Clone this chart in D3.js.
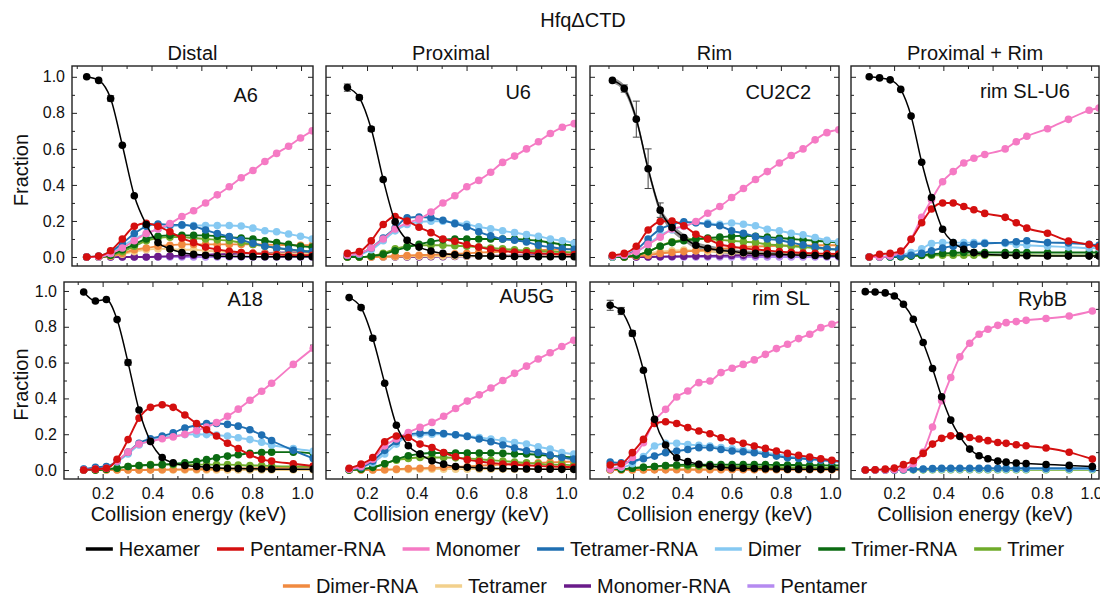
<!DOCTYPE html>
<html>
<head>
<meta charset="utf-8">
<script src="https://cdn.jsdelivr.net/npm/d3@7"></script>
<style>
  body { margin: 0; background: #fff; }
  text { font-family: "Liberation Sans", Arial, sans-serif; fill: #111; }
</style>
</head>
<body>
<div id="chart"></div>
<script>
// species, in legend order
var seriesNames = ["Hexamer", "Pentamer-RNA", "Monomer", "Tetramer-RNA", "Dimer", "Trimer-RNA",
                   "Trimer", "Dimer-RNA", "Tetramer", "Monomer-RNA", "Pentamer"];
var seriesColors = ["#000000", "#d40f0f", "#f57ac4", "#1f6fb2", "#86c9f2", "#0b6b12",
                    "#6fab2a", "#f08a40", "#f2d08c", "#6a1b8a", "#b58af0"];
var columnTitles = ["Distal", "Proximal", "Rim", "Proximal + Rim"];
var panelNames = ["A6", "U6", "CU2C2", "rim SL-U6", "A18", "AU5G", "rim SL", "RybB"];
var xTicks = [0.2, 0.4, 0.6, 0.8, 1.0];
var xMinor = [0.1, 0.3, 0.5, 0.7, 0.9];
var yTicks = [0, 0.2, 0.4, 0.6, 0.8, 1.0];
var yMinor = [0.1, 0.3, 0.5, 0.7, 0.9];

// ---- A6 (Distal) ----
var energyA6 = [0.14, 0.188, 0.236, 0.283, 0.331, 0.379, 0.426, 0.474, 0.522, 0.569, 0.617, 0.664, 0.712, 0.760, 0.807, 0.855, 0.902, 0.950, 0.998, 1.045];
var A6 = [
  [1.0, 0.98, 0.88, 0.62, 0.34, 0.18, 0.08, 0.045, 0.025, 0.015, 0.01, 0.006, 0.004, 0.003, 0.002, 0.002, 0.001, 0.001, 0.001, 0.001],
  [0, 0.005, 0.035, 0.10, 0.17, 0.187, 0.17, 0.14, 0.105, 0.08, 0.055, 0.042, 0.032, 0.025, 0.02, 0.016, 0.013, 0.011, 0.01, 0.01],
  [0, 0, 0.02, 0.05, 0.09, 0.13, 0.155, 0.185, 0.225, 0.257, 0.30, 0.345, 0.39, 0.44, 0.48, 0.53, 0.575, 0.615, 0.66, 0.70],
  [0, 0.005, 0.03, 0.075, 0.13, 0.17, 0.183, 0.178, 0.178, 0.17, 0.15, 0.13, 0.113, 0.095, 0.076, 0.06, 0.05, 0.043, 0.035, 0.03],
  [0, 0, 0.02, 0.06, 0.10, 0.13, 0.155, 0.17, 0.175, 0.175, 0.175, 0.175, 0.175, 0.172, 0.16, 0.146, 0.14, 0.128, 0.115, 0.10],
  [0, 0, 0.01, 0.04, 0.07, 0.10, 0.115, 0.12, 0.12, 0.12, 0.12, 0.115, 0.11, 0.105, 0.10, 0.09, 0.08, 0.07, 0.06, 0.055],
  [0, 0, 0.01, 0.03, 0.06, 0.09, 0.105, 0.11, 0.11, 0.105, 0.10, 0.095, 0.09, 0.08, 0.07, 0.06, 0.05, 0.04, 0.035, 0.03],
  [0, 0, 0.005, 0.02, 0.04, 0.05, 0.06, 0.065, 0.07, 0.07, 0.07, 0.07, 0.07, 0.07, 0.07, 0.068, 0.067, 0.066, 0.065, 0.065],
  [0, 0, 0.005, 0.015, 0.03, 0.04, 0.045, 0.045, 0.04, 0.04, 0.035, 0.03, 0.028, 0.025, 0.022, 0.02, 0.02, 0.02, 0.02, 0.02],
  [0, 0, 0, 0, 0, 0, 0.002, 0.005, 0.007, 0.01, 0.012, 0.015, 0.017, 0.02, 0.02, 0.022, 0.024, 0.025, 0.025, 0.025],
  [0, 0, 0, 0, 0, 0, 0, 0, 0, 0, 0, 0, 0, 0, 0, 0, 0, 0, 0, 0]
];
var errA6 = [0, 0, 0.015];

// ---- U6 (Proximal) ----
var energyU6 = [0.121, 0.169, 0.217, 0.265, 0.313, 0.361, 0.409, 0.457, 0.505, 0.553, 0.601, 0.649, 0.697, 0.745, 0.793, 0.841, 0.889, 0.937, 0.985, 1.033];
var U6 = [
  [0.94, 0.885, 0.71, 0.43, 0.195, 0.093, 0.055, 0.033, 0.02, 0.012, 0.008, 0.006, 0.005, 0.004, 0.003, 0.003, 0.002, 0.002, 0.002, 0.002],
  [0.02, 0.03, 0.09, 0.18, 0.225, 0.20, 0.165, 0.135, 0.10, 0.087, 0.068, 0.055, 0.042, 0.033, 0.028, 0.024, 0.02, 0.018, 0.015, 0.013],
  [0.01, 0.02, 0.05, 0.10, 0.155, 0.19, 0.21, 0.25, 0.30, 0.34, 0.39, 0.425, 0.47, 0.525, 0.56, 0.60, 0.64, 0.685, 0.72, 0.74],
  [0.01, 0.02, 0.05, 0.105, 0.16, 0.217, 0.222, 0.218, 0.204, 0.185, 0.167, 0.14, 0.117, 0.10, 0.093, 0.083, 0.065, 0.055, 0.046, 0.042],
  [0.01, 0.015, 0.04, 0.09, 0.145, 0.18, 0.195, 0.198, 0.198, 0.19, 0.182, 0.167, 0.157, 0.145, 0.135, 0.124, 0.115, 0.10, 0.09, 0.078],
  [0, 0, 0.005, 0.015, 0.035, 0.055, 0.07, 0.085, 0.095, 0.10, 0.10, 0.10, 0.10, 0.10, 0.10, 0.095, 0.09, 0.08, 0.07, 0.065],
  [0, 0, 0.005, 0.02, 0.045, 0.06, 0.065, 0.065, 0.065, 0.062, 0.06, 0.055, 0.05, 0.045, 0.04, 0.035, 0.032, 0.03, 0.028, 0.025],
  [0, 0, 0, 0.002, 0.005, 0.008, 0.01, 0.012, 0.015, 0.018, 0.02, 0.024, 0.028, 0.03, 0.032, 0.035, 0.037, 0.04, 0.042, 0.045],
  [0, 0, 0, 0, 0.002, 0.003, 0.004, 0.005, 0.005, 0.005, 0.005, 0.005, 0.005, 0.005, 0.005, 0.005, 0.005, 0.005, 0.005, 0.005],
  [0, 0, 0, 0, 0, 0, 0, 0.001, 0.002, 0.003, 0.004, 0.005, 0.006, 0.007, 0.008, 0.009, 0.01, 0.01, 0.01, 0.01],
  null
];
var errU6 = [0.02, 0.012, 0.012];

// ---- CU2C2 (Rim) ----
var energyCU2C2 = [0.116, 0.164, 0.213, 0.261, 0.310, 0.358, 0.406, 0.455, 0.503, 0.552, 0.600, 0.648, 0.697, 0.745, 0.794, 0.842, 0.890, 0.939, 0.987, 1.035];
var CU2C2 = [
  [0.98, 0.935, 0.765, 0.49, 0.26, 0.163, 0.108, 0.065, 0.048, 0.037, 0.03, 0.024, 0.02, 0.017, 0.015, 0.012, 0.01, 0.008, 0.006, 0.005],
  [0.01, 0.02, 0.06, 0.15, 0.197, 0.20, 0.173, 0.126, 0.10, 0.07, 0.058, 0.048, 0.042, 0.036, 0.03, 0.026, 0.022, 0.02, 0.018, 0.017],
  [0.005, 0.01, 0.03, 0.07, 0.11, 0.155, 0.17, 0.197, 0.243, 0.28, 0.33, 0.38, 0.43, 0.474, 0.522, 0.563, 0.60, 0.65, 0.69, 0.706],
  [0.005, 0.01, 0.04, 0.10, 0.155, 0.18, 0.195, 0.19, 0.182, 0.173, 0.145, 0.132, 0.113, 0.10, 0.093, 0.08, 0.067, 0.056, 0.046, 0.042],
  [0, 0.01, 0.03, 0.07, 0.12, 0.15, 0.17, 0.19, 0.188, 0.182, 0.188, 0.182, 0.173, 0.154, 0.145, 0.132, 0.123, 0.108, 0.093, 0.085],
  [0, 0, 0.01, 0.03, 0.06, 0.08, 0.09, 0.10, 0.105, 0.11, 0.115, 0.118, 0.115, 0.11, 0.105, 0.10, 0.095, 0.09, 0.085, 0.08],
  [0, 0, 0.01, 0.03, 0.06, 0.085, 0.095, 0.10, 0.10, 0.095, 0.09, 0.085, 0.08, 0.07, 0.065, 0.06, 0.055, 0.05, 0.045, 0.04],
  [0, 0, 0.005, 0.01, 0.02, 0.025, 0.03, 0.035, 0.04, 0.045, 0.05, 0.055, 0.058, 0.06, 0.062, 0.063, 0.064, 0.065, 0.065, 0.065],
  [0, 0, 0.01, 0.02, 0.03, 0.035, 0.038, 0.035, 0.03, 0.028, 0.025, 0.022, 0.02, 0.018, 0.016, 0.015, 0.014, 0.013, 0.012, 0.012],
  [0, 0, 0, 0, 0.002, 0.003, 0.004, 0.005, 0.006, 0.007, 0.008, 0.009, 0.01, 0.011, 0.012, 0.013, 0.014, 0.015, 0.015, 0.015],
  [0, 0, 0, 0, 0, 0, 0, 0, 0, 0, 0, 0, 0, 0, 0, 0, 0, 0, 0, 0]
];
var errCU2C2 = [0, 0.02, 0.1, 0.11, 0.04];
var bandCU2C2 = [0.015, 0.02, 0.022, 0.022, 0.022, 0.022, 0.02, 0.02, 0.018, 0.016, 0.015, 0.014, 0.013, 0.012, 0.011, 0.01, 0.01, 0.01, 0.01, 0.01];

// ---- rim SL-U6 (Proximal + Rim) ----
var energyRimSLU6 = [0.099, 0.141, 0.184, 0.227, 0.269, 0.312, 0.352, 0.397, 0.440, 0.483, 0.524, 0.568, 0.651, 0.696, 0.739, 0.823, 0.908, 0.992, 1.032];
var rimSLU6 = [
  [1.0, 0.994, 0.983, 0.93, 0.782, 0.526, 0.33, 0.154, 0.08, 0.043, 0.024, 0.015, 0.01, 0.008, 0.007, 0.006, 0.005, 0.005, 0.005],
  [0, 0.015, 0.02, 0.033, 0.098, 0.19, 0.266, 0.30, 0.30, 0.28, 0.262, 0.242, 0.22, 0.19, 0.16, 0.132, 0.089, 0.069, 0.056],
  [0, 0, 0.005, 0.03, 0.10, 0.22, 0.318, 0.418, 0.474, 0.522, 0.548, 0.569, 0.60, 0.64, 0.67, 0.712, 0.764, 0.814, 0.827],
  [0, 0, 0.002, 0.005, 0.01, 0.02, 0.035, 0.05, 0.06, 0.065, 0.07, 0.075, 0.08, 0.085, 0.09, 0.08, 0.078, 0.07, 0.065],
  [0, 0, 0.005, 0.01, 0.025, 0.045, 0.075, 0.08, 0.08, 0.08, 0.08, 0.08, 0.075, 0.07, 0.065, 0.06, 0.055, 0.05, 0.05],
  [0, 0, 0, 0.002, 0.005, 0.01, 0.015, 0.02, 0.022, 0.025, 0.025, 0.025, 0.025, 0.025, 0.025, 0.025, 0.025, 0.025, 0.025],
  [0, 0, 0, 0.002, 0.005, 0.008, 0.01, 0.01, 0.01, 0.01, 0.01, 0.01, 0.01, 0.01, 0.01, 0.008, 0.008, 0.008, 0.008],
  null, null, null, null
];
var errRimSLU6 = [];

// ---- A18 (Distal) ----
var energyA18 = [0.124, 0.171, 0.215, 0.258, 0.302, 0.346, 0.392, 0.439, 0.483, 0.530, 0.577, 0.617, 0.657, 0.701, 0.744, 0.791, 0.838, 0.878, 0.965, 1.045];
var A18 = [
  [0.994, 0.944, 0.952, 0.84, 0.60, 0.335, 0.16, 0.07, 0.04, 0.025, 0.02, 0.015, 0.012, 0.01, 0.008, 0.007, 0.006, 0.005, 0.005, 0.005],
  [0, 0.005, 0.01, 0.06, 0.17, 0.29, 0.35, 0.365, 0.35, 0.307, 0.26, 0.225, 0.19, 0.15, 0.12, 0.085, 0.06, 0.05, 0.035, 0.022],
  [0, 0.005, 0.01, 0.05, 0.10, 0.145, 0.16, 0.175, 0.185, 0.20, 0.22, 0.24, 0.265, 0.30, 0.34, 0.39, 0.44, 0.485, 0.59, 0.68],
  [0.005, 0.015, 0.02, 0.05, 0.10, 0.15, 0.175, 0.19, 0.208, 0.235, 0.25, 0.26, 0.26, 0.255, 0.245, 0.225, 0.195, 0.165, 0.11, 0.065],
  [0.005, 0.01, 0.015, 0.045, 0.09, 0.14, 0.165, 0.18, 0.19, 0.198, 0.20, 0.198, 0.195, 0.19, 0.18, 0.17, 0.155, 0.14, 0.12, 0.105],
  [0, 0, 0.005, 0.01, 0.02, 0.025, 0.028, 0.03, 0.035, 0.04, 0.048, 0.058, 0.068, 0.078, 0.085, 0.093, 0.098, 0.10, 0.10, 0.093],
  [0, 0, 0.005, 0.01, 0.02, 0.025, 0.03, 0.03, 0.03, 0.03, 0.03, 0.03, 0.03, 0.03, 0.028, 0.025, 0.025, 0.022, 0.02, 0.02],
  [0, 0, 0, 0, 0, 0, 0.001, 0.002, 0.003, 0.004, 0.005, 0.006, 0.007, 0.008, 0.009, 0.01, 0.011, 0.012, 0.014, 0.016],
  [0, 0, 0, 0, 0, 0, 0, 0, 0, 0, 0, 0, 0, 0, 0, 0, 0, 0, 0, 0],
  null, null
];
var errA18 = [0, 0, 0, 0, 0.015];

// ---- AU5G (Proximal) ----
var energyAU5G = [0.128, 0.176, 0.223, 0.271, 0.318, 0.366, 0.413, 0.461, 0.508, 0.556, 0.603, 0.651, 0.698, 0.746, 0.793, 0.841, 0.888, 0.936, 0.983, 1.031];
var AU5G = [
  [0.963, 0.907, 0.736, 0.485, 0.25, 0.136, 0.089, 0.052, 0.033, 0.02, 0.015, 0.012, 0.01, 0.008, 0.007, 0.006, 0.005, 0.005, 0.004, 0.004],
  [0.01, 0.033, 0.07, 0.158, 0.19, 0.182, 0.145, 0.126, 0.098, 0.074, 0.058, 0.048, 0.04, 0.034, 0.03, 0.026, 0.023, 0.02, 0.018, 0.016],
  [0.005, 0.02, 0.06, 0.135, 0.173, 0.21, 0.238, 0.266, 0.30, 0.344, 0.385, 0.42, 0.458, 0.50, 0.54, 0.58, 0.62, 0.655, 0.69, 0.725],
  [0.005, 0.015, 0.05, 0.11, 0.16, 0.20, 0.206, 0.21, 0.204, 0.197, 0.188, 0.173, 0.158, 0.14, 0.123, 0.108, 0.098, 0.084, 0.07, 0.061],
  [0.005, 0.015, 0.04, 0.09, 0.145, 0.19, 0.197, 0.20, 0.20, 0.197, 0.19, 0.182, 0.173, 0.164, 0.154, 0.145, 0.13, 0.117, 0.098, 0.089],
  [0, 0.005, 0.015, 0.035, 0.06, 0.08, 0.09, 0.095, 0.095, 0.095, 0.095, 0.095, 0.095, 0.093, 0.09, 0.09, 0.085, 0.08, 0.075, 0.07],
  [0, 0.005, 0.015, 0.035, 0.055, 0.065, 0.07, 0.07, 0.07, 0.068, 0.065, 0.06, 0.055, 0.05, 0.045, 0.04, 0.035, 0.03, 0.03, 0.025],
  [0, 0, 0, 0.002, 0.005, 0.008, 0.01, 0.012, 0.015, 0.018, 0.02, 0.024, 0.028, 0.03, 0.034, 0.037, 0.04, 0.043, 0.045, 0.048],
  [0, 0, 0, 0, 0.002, 0.003, 0.004, 0.005, 0.005, 0.005, 0.005, 0.005, 0.005, 0.005, 0.005, 0.005, 0.005, 0.005, 0.005, 0.005],
  null, null
];
var errAU5G = [0, 0.01, 0.012];

// ---- rim SL (Rim) ----
var energyRimSL = [0.107, 0.152, 0.197, 0.242, 0.287, 0.332, 0.377, 0.422, 0.467, 0.512, 0.557, 0.602, 0.647, 0.692, 0.737, 0.782, 0.827, 0.872, 0.917, 0.962, 1.007, 1.052];
var rimSL = [
  [0.92, 0.888, 0.763, 0.557, 0.283, 0.14, 0.069, 0.047, 0.032, 0.022, 0.016, 0.012, 0.01, 0.008, 0.007, 0.006, 0.005, 0.005, 0.005, 0.004, 0.004, 0.004],
  [0.028, 0.035, 0.097, 0.171, 0.26, 0.27, 0.26, 0.237, 0.218, 0.203, 0.18, 0.162, 0.149, 0.134, 0.121, 0.106, 0.093, 0.082, 0.073, 0.063, 0.054, 0.048],
  [0.005, 0.02, 0.07, 0.153, 0.274, 0.339, 0.408, 0.441, 0.488, 0.497, 0.544, 0.568, 0.59, 0.615, 0.646, 0.678, 0.702, 0.734, 0.758, 0.795, 0.814, 0.835],
  [0.045, 0.04, 0.05, 0.063, 0.078, 0.097, 0.106, 0.115, 0.125, 0.125, 0.115, 0.106, 0.102, 0.097, 0.088, 0.078, 0.069, 0.065, 0.06, 0.056, 0.05, 0.046],
  [0.013, 0.015, 0.035, 0.075, 0.134, 0.149, 0.149, 0.143, 0.138, 0.134, 0.125, 0.119, 0.112, 0.106, 0.097, 0.088, 0.078, 0.069, 0.063, 0.056, 0.05, 0.046],
  [0.005, 0.005, 0.01, 0.015, 0.02, 0.025, 0.028, 0.03, 0.03, 0.03, 0.03, 0.03, 0.03, 0.03, 0.03, 0.028, 0.028, 0.028, 0.027, 0.027, 0.025, 0.025],
  [0.005, 0.005, 0.01, 0.015, 0.02, 0.022, 0.022, 0.022, 0.022, 0.02, 0.02, 0.02, 0.018, 0.018, 0.017, 0.016, 0.015, 0.015, 0.014, 0.013, 0.012, 0.012],
  [0, 0, 0, 0, 0.001, 0.001, 0.002, 0.002, 0.002, 0.002, 0.002, 0.002, 0.002, 0.002, 0.002, 0.002, 0.002, 0.002, 0.002, 0.002, 0.002, 0.002],
  [0, 0, 0, 0.002, 0.003, 0.004, 0.005, 0.005, 0.005, 0.005, 0.005, 0.005, 0.005, 0.005, 0.005, 0.005, 0.005, 0.005, 0.005, 0.005, 0.005, 0.005],
  null, null
];
var errRimSL = [0.028, 0.02, 0.015];

// ---- RybB (Proximal + Rim) ----
var energyRybB = [0.083, 0.123, 0.164, 0.201, 0.238, 0.278, 0.318, 0.356, 0.393, 0.43, 0.467, 0.507, 0.545, 0.581, 0.621, 0.655, 0.696, 0.736, 0.817, 0.911, 1.005];
var RybB = [
  [0.996, 0.994, 0.989, 0.972, 0.926, 0.842, 0.712, 0.567, 0.409, 0.279, 0.188, 0.117, 0.08, 0.063, 0.05, 0.044, 0.039, 0.036, 0.031, 0.026, 0.02],
  [0, 0.002, 0.005, 0.011, 0.03, 0.052, 0.093, 0.145, 0.177, 0.191, 0.191, 0.182, 0.173, 0.164, 0.154, 0.149, 0.141, 0.136, 0.123, 0.099, 0.061],
  [0, 0, 0, 0.002, 0.005, 0.035, 0.10, 0.24, 0.387, 0.517, 0.632, 0.708, 0.758, 0.786, 0.808, 0.823, 0.829, 0.836, 0.846, 0.86, 0.888],
  [0, 0, 0, 0, 0.002, 0.004, 0.006, 0.008, 0.01, 0.01, 0.01, 0.01, 0.01, 0.01, 0.01, 0.01, 0.01, 0.01, 0.01, 0.01, 0.01],
  [0, 0, 0, 0, 0.002, 0.003, 0.004, 0.005, 0.005, 0.005, 0.005, 0.005, 0.005, 0.005, 0.005, 0.005, 0.005, 0.005, 0.005, 0.005, 0.005],
  null,
  [0, 0, 0, 0, 0, 0.001, 0.001, 0.002, 0.002, 0.002, 0.002, 0.002, 0.002, 0.002, 0.002, 0.002, 0.002, 0.002, 0.002, 0.002, 0.002],
  null, null, null, null
];
var errRybB = [];

var panelEnergy = [energyA6, energyU6, energyCU2C2, energyRimSLU6, energyA18, energyAU5G, energyRimSL, energyRybB];
var panelValues = [A6, U6, CU2C2, rimSLU6, A18, AU5G, rimSL, RybB];
var panelErrors = [errA6, errU6, errCU2C2, errRimSLU6, errA18, errAU5G, errRimSL, errRybB];

// ---- layout (pixels) ----
var frames = [
  {x: 72,  y: 66,  w: 241, h: 200, xd: [0.081, 1.048], yd: [-0.05, 1.06], inset: 55, ly: 102},
  {x: 326, y: 66,  w: 250, h: 200, xd: [0.035, 1.04],  yd: [-0.05, 1.06], inset: 45, ly: 99},
  {x: 590, y: 66,  w: 249, h: 200, xd: [0.025, 1.036], yd: [-0.05, 1.06], inset: 28, ly: 99},
  {x: 851, y: 66,  w: 248, h: 200, xd: [0.025, 1.032], yd: [-0.05, 1.06], inset: 29, ly: 98},
  {x: 64,  y: 282, w: 249, h: 197, xd: [0.045, 1.044], yd: [-0.05, 1.05], inset: 50, ly: 306},
  {x: 326, y: 282, w: 250, h: 197, xd: [0.035, 1.04],  yd: [-0.05, 1.05], inset: 22, ly: 303},
  {x: 590, y: 282, w: 249, h: 197, xd: [0.025, 1.036], yd: [-0.05, 1.05], inset: 29, ly: 305},
  {x: 851, y: 282, w: 248, h: 197, xd: [0.025, 1.032], yd: [-0.05, 1.05], inset: 32, ly: 306}
];

var W = 1100, H = 599;
var svg = d3.select("#chart").append("svg")
  .attr("width", W)
  .attr("height", H);

svg.append("text")
  .attr("x", 583).attr("y", 27)
  .attr("text-anchor", "middle")
  .style("font-size", "20px")
  .text("HfqΔCTD");

frames.forEach(function(f, i) {
  var col = i % 4, row = Math.floor(i / 4);
  var x = d3.scaleLinear().domain(f.xd).range([f.x, f.x + f.w]);
  var y = d3.scaleLinear().domain(f.yd).range([f.y + f.h, f.y]);
  var g = svg.append("g");

  // column titles above the top row
  if (row === 0) {
    g.append("text")
      .attr("x", f.x + f.w / 2).attr("y", 60)
      .attr("text-anchor", "middle")
      .style("font-size", "20px")
      .text(columnTitles[col]);
  }

  var clipId = "clip" + i;
  svg.append("clipPath").attr("id", clipId)
    .append("rect").attr("x", f.x).attr("y", f.y).attr("width", f.w).attr("height", f.h);

  // ticks on four sides, pointing inward
  function addAxis(axis, tx, ty, labels) {
    var a = g.append("g")
      .attr("transform", "translate(" + tx + "," + ty + ")")
      .call(axis);
    a.select(".domain").remove();
    a.selectAll("line").attr("stroke", "#222");
    a.selectAll("text")
      .style("font-size", "16px")
      .style("font-family", "'Liberation Sans', Arial, sans-serif")
      .attr("fill", "#111")
      .style("display", labels ? null : "none");
  }
  var fmt = d3.format(".1f");
  addAxis(d3.axisBottom(x).tickValues(xTicks).tickSize(-5).tickPadding(9).tickFormat(fmt), 0, f.y + f.h, row === 1);
  addAxis(d3.axisBottom(x).tickValues(xMinor).tickSize(-3).tickFormat(""), 0, f.y + f.h, false);
  addAxis(d3.axisTop(x).tickValues(xTicks).tickSize(-5).tickFormat(""), 0, f.y, false);
  addAxis(d3.axisTop(x).tickValues(xMinor).tickSize(-3).tickFormat(""), 0, f.y, false);
  addAxis(d3.axisLeft(y).tickValues(yTicks).tickSize(-5).tickPadding(7).tickFormat(fmt), f.x, 0, col === 0);
  addAxis(d3.axisLeft(y).tickValues(yMinor).tickSize(-3).tickFormat(""), f.x, 0, false);
  addAxis(d3.axisRight(y).tickValues(yTicks).tickSize(-5).tickFormat(""), f.x + f.w, 0, false);
  addAxis(d3.axisRight(y).tickValues(yMinor).tickSize(-3).tickFormat(""), f.x + f.w, 0, false);

  var energy = panelEnergy[i], vals = panelValues[i], errs = panelErrors[i];
  var plot = g.append("g").attr("clip-path", "url(#" + clipId + ")");

  var line = d3.line()
    .x(function(d) { return x(d[0]); })
    .y(function(d) { return y(d[1]); })
    .curve(d3.curveMonotoneX);

  // grey spread band behind the hexamer trace in CU2C2
  if (i === 2) {
    var band = d3.area()
      .x(function(d, k) { return x(energy[k]); })
      .y0(function(d, k) { return y(d - bandCU2C2[k]); })
      .y1(function(d, k) { return y(d + bandCU2C2[k]); })
      .curve(d3.curveMonotoneX);
    plot.append("path").datum(vals[0])
      .attr("d", band)
      .attr("fill", "#6f6f6f")
      .attr("opacity", 0.75);
  }

  // draw from the last species up, so the hexamer sits on top
  for (var s = seriesNames.length - 1; s >= 0; s--) {
    var v = vals[s];
    if (!v) continue;
    var pts = energy.map(function(e, k) { return [e, v[k]]; });
    var color = seriesColors[s];
    plot.append("path").datum(pts)
      .attr("d", line)
      .attr("fill", "none")
      .attr("stroke", color)
      .attr("stroke-width", s === 0 ? 1.5 : 1.9);
    if (s === 0) {
      errs.forEach(function(e, k) {
        if (!e) return;
        var cx = x(energy[k]);
        var eb = plot.append("g").attr("stroke", "#444").attr("stroke-width", 1);
        eb.append("line").attr("x1", cx).attr("x2", cx).attr("y1", y(v[k] - e)).attr("y2", y(v[k] + e));
        eb.append("line").attr("x1", cx - 3.5).attr("x2", cx + 3.5).attr("y1", y(v[k] - e)).attr("y2", y(v[k] - e));
        eb.append("line").attr("x1", cx - 3.5).attr("x2", cx + 3.5).attr("y1", y(v[k] + e)).attr("y2", y(v[k] + e));
      });
    }
    plot.append("g").selectAll("circle")
      .data(pts).enter().append("circle")
        .attr("cx", function(d) { return x(d[0]); })
        .attr("cy", function(d) { return y(d[1]); })
        .attr("r", 3.8)
        .attr("fill", color);
  }

  // frame
  g.append("rect")
    .attr("x", f.x).attr("y", f.y).attr("width", f.w).attr("height", f.h)
    .attr("fill", "none").attr("stroke", "#222").attr("stroke-width", 1.4);

  // inset construct name
  g.append("text")
    .attr("x", f.x + f.w - f.inset).attr("y", f.ly)
    .attr("text-anchor", "end")
    .style("font-size", "20px")
    .text(panelNames[i]);

  if (col === 0) {
    g.append("text")
      .attr("transform", "translate(28," + (f.y + f.h / 2 + 4) + ") rotate(-90)")
      .attr("text-anchor", "middle")
      .style("font-size", "20px")
      .text("Fraction");
  }
  if (row === 1) {
    g.append("text")
      .attr("x", f.x + f.w / 2).attr("y", 521)
      .attr("text-anchor", "middle")
      .style("font-size", "20px")
      .text("Collision energy (keV)");
  }
});

// legend, two centred rows
var legendRows = [seriesNames.slice(0, 7), seriesNames.slice(7)];
legendRows.forEach(function(names, r) {
  var yy = r === 0 ? 549 : 586;
  var lg = svg.append("g");
  var cursor = 0;
  names.forEach(function(name) {
    var idx = seriesNames.indexOf(name);
    var item = lg.append("g").attr("transform", "translate(" + cursor + ",0)");
    item.append("line")
      .attr("x1", 0).attr("x2", 27).attr("y1", yy).attr("y2", yy)
      .attr("stroke", seriesColors[idx]).attr("stroke-width", 3.5);
    var t = item.append("text")
      .attr("x", 33).attr("y", yy + 7)
      .style("font-size", "20px")
      .text(name);
    cursor += 33 + t.node().getComputedTextLength() + 17;
  });
  var total = cursor - 17;
  lg.attr("transform", "translate(" + (575 - total / 2) + ",0)");
});
</script>
</body>
</html>
